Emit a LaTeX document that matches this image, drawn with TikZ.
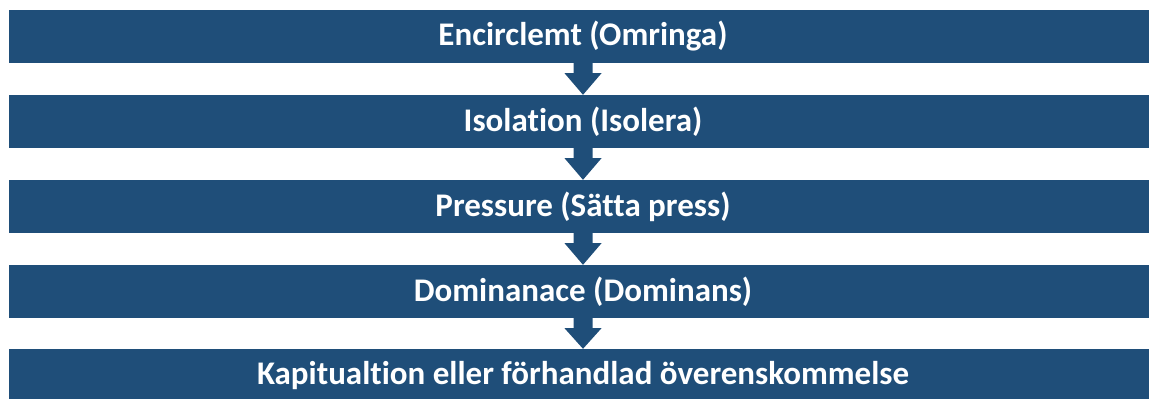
\documentclass[tikz,border=0pt]{standalone}
\usepackage{fontspec}
\setmainfont[RawFeature=-liga]{Carlito}
\usetikzlibrary{calc}
\definecolor{boxblue}{RGB}{31,78,121}
\tikzset{
  stagebox/.style={fill=boxblue, draw=none, minimum width=1149pt, minimum height=53pt, inner sep=0pt, text=white, font=\bfseries\fontsize{33}{40}\selectfont},
  downarrow/.style={fill=boxblue, draw=none}
}
\newcommand{\stagearrow}[2]{%
  \fill[downarrow] ($(#1.south)+(-9.5pt,0.5pt)$) -- ($(#1.south)+(9.5pt,0.5pt)$) -- ($(#1.south)+(9.5pt,-10pt)$) -- ($(#1.south)+(18.5pt,-10pt)$) -- (#2.north) -- ($(#1.south)+(-18.5pt,-10pt)$) -- ($(#1.south)+(-9.5pt,-10pt)$) -- cycle;}
\begin{document}
\begin{tikzpicture}[x=1pt,y=1pt]
\useasboundingbox (0,0) rectangle (1149,-399);
\begin{scope}
\clip (0,0) rectangle (1149,-399);
\node[stagebox] (b1) at (583,-36.5) {Encirclemt (Omringa)};
\node[stagebox] (b2) at (583,-121.5) {Isolation (Isolera)};
\node[stagebox] (b3) at (583,-206.5) {Pressure (Sätta press)};
\node[stagebox] (b4) at (583,-291.5) {Dominanace (Dominans)};
\node[stagebox] (b5) at (583,-375.5) {Kapitualtion eller förhandlad överenskommelse};
\stagearrow{b1}{b2}
\stagearrow{b2}{b3}
\stagearrow{b3}{b4}
\stagearrow{b4}{b5}
\end{scope}
\end{tikzpicture}
\end{document}
